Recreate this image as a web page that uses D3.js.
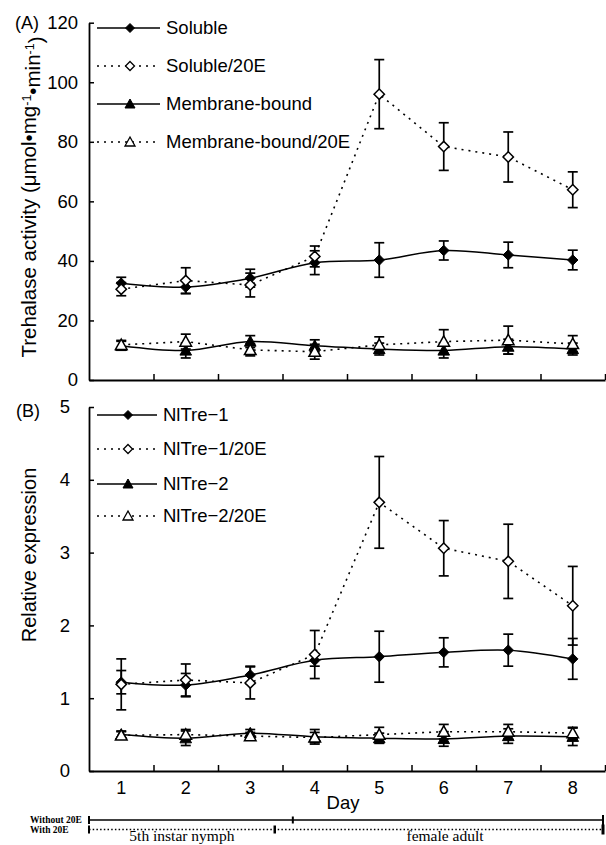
<!DOCTYPE html>
<html><head><meta charset="utf-8">
<script src="https://cdn.jsdelivr.net/npm/d3@7"></script>
<style>
html,body{margin:0;padding:0;background:#fff;}
svg{display:block;}
text{font-family:"Liberation Sans",Arial,sans-serif;fill:#000;}
.serif{font-family:"Liberation Serif","Times New Roman",serif;}
</style></head>
<body><svg id="chart" width="606" height="845"></svg>
<script>
// ---------- data ----------
const days = ["1","2","3","4","5","6","7","8"];
const yTicksA = [0,20,40,60,80,100,120];
const yTicksB = [0,1,2,3,4,5];

const seriesNamesA = ["Soluble","Soluble/20E","Membrane-bound","Membrane-bound/20E"];
const soluble        = [32.5, 31.2, 34.2, 39.4, 40.3, 43.5, 42.0, 40.3];
const solubleErr     = [2.0, 2.2, 3.0, 4.0, 5.8, 3.2, 4.3, 3.3];
const soluble20E     = [30.5, 33.4, 31.9, 41.5, 96.0, 78.4, 74.9, 63.9];
const soluble20EErr  = [2.2, 4.3, 4.0, 3.5, 11.6, 8.0, 8.4, 6.0];
const membrane       = [11.5, 9.9, 12.9, 11.5, 10.4, 9.9, 11.2, 10.4];
const membraneErr    = [1.5, 2.5, 2.0, 2.0, 2.0, 2.5, 2.5, 2.0];
const membrane20E    = [11.8, 12.9, 10.1, 9.5, 11.8, 12.9, 13.4, 12.1];
const membrane20EErr = [1.5, 2.5, 2.0, 2.5, 2.7, 4.0, 4.7, 2.8];

const seriesNamesB = ["NlTre\u22121","NlTre\u22121/20E","NlTre\u22122","NlTre\u22122/20E"];
const tre1       = [1.22, 1.18, 1.32, 1.52, 1.57, 1.63, 1.66, 1.54];
const tre1Err    = [0.16, 0.16, 0.12, 0.08, 0.35, 0.20, 0.22, 0.28];
const tre1_20E   = [1.19, 1.25, 1.21, 1.60, 3.69, 3.06, 2.88, 2.27];
const tre1_20EErr= [0.35, 0.22, 0.22, 0.33, 0.63, 0.38, 0.51, 0.54];
const tre2       = [0.50, 0.45, 0.52, 0.47, 0.45, 0.44, 0.48, 0.47];
const tre2Err    = [0.05, 0.10, 0.05, 0.10, 0.07, 0.10, 0.10, 0.12];
const tre2_20E   = [0.49, 0.50, 0.48, 0.46, 0.50, 0.54, 0.54, 0.52];
const tre2_20EErr= [0.05, 0.07, 0.05, 0.07, 0.10, 0.10, 0.10, 0.08];

const stageLabels = ["5th instar nymph","female adult"];
const stageRowLabels = ["Without 20E","With 20E"];
// stage boundary in day-axis units (0..8)
const stageBoundaryWithout = 3.16;
const stageBoundaryWith = 2.88;

// ---------- drawing ----------
const svg = d3.select("#chart");
const X0 = 89, X1 = 605;
const xBand = d3.scaleBand().domain(days).range([X0, X1]).paddingInner(0).paddingOuter(0);
const xEdge = d3.scaleLinear().domain([0, 8]).range([X0, X1]);
const xc = i => xBand(days[i]) + xBand.bandwidth()/2;

const diamond = "M0,-5.2L5.2,0L0,5.2L-5.2,0Z";
const triangle = "M0,-5.8L5.8,4.6L-5.8,4.6Z";
const diamondS = "M0,-4.5L4.5,0L0,4.5L-4.5,0Z";
const triangleS = "M0,-5L5,4L-5,4Z";

function panel(cfg){
  const y = d3.scaleLinear().domain(cfg.domain).range(cfg.range);
  const g = svg.append("g");
  // y axis
  const ya = g.append("g").attr("transform",`translate(${X0},0)`)
    .call(d3.axisLeft(y).tickValues(cfg.ticks).tickFormat(d3.format("d")).tickSizeInner(-5).tickSizeOuter(0).tickPadding(cfg.pad));
  ya.select(".domain").attr("stroke-width",1.8);
  ya.selectAll(".tick line").attr("stroke-width",1.5);
  ya.selectAll("text").attr("font-size",18.5).attr("font-family",null);
  // x axis ticks
  const xa = g.append("g").attr("transform",`translate(0,${cfg.range[0]})`)
    .call(d3.axisBottom(xEdge).tickValues([1,2,3,4,5,6,7,8]).tickSizeInner(-6).tickSizeOuter(0).tickFormat(""));
  xa.select(".domain").attr("stroke-width",1.8);
  xa.selectAll(".tick line").attr("stroke-width",1.5);
  if(cfg.xLabels){
    const xl = g.append("g").attr("transform",`translate(0,${cfg.range[0]})`)
      .call(d3.axisBottom(xBand).tickSize(0).tickPadding(10));
    xl.select(".domain").remove();
    xl.selectAll("text").attr("font-size",18).attr("font-family",null);
  }
  // series
  const lineSmooth = d3.line().x((d,i)=>xc(i)).y(d=>y(d)).curve(d3.curveCatmullRom.alpha(0.5));
  const lineStraight = d3.line().x((d,i)=>xc(i)).y(d=>y(d));
  cfg.series.forEach(s=>{
    const eg = g.append("g").attr("stroke","#000").attr("stroke-width",1.7);
    s.values.forEach((v,i)=>{
      const cx = xc(i), yt = y(v + s.err[i]), yb = y(v - s.err[i]);
      eg.append("line").attr("x1",cx).attr("x2",cx).attr("y1",yt).attr("y2",yb);
      eg.append("line").attr("x1",cx-5).attr("x2",cx+5).attr("y1",yt).attr("y2",yt);
      eg.append("line").attr("x1",cx-5).attr("x2",cx+5).attr("y1",yb).attr("y2",yb);
    });
  });
  cfg.series.forEach(s=>{
    g.append("path").datum(s.values)
      .attr("d", s.dotted ? lineStraight : lineSmooth)
      .attr("fill","none").attr("stroke","#000")
      .attr("stroke-width", s.dotted ? 1.6 : 1.5)
      .attr("stroke-dasharray", s.dotted ? "2,5" : null);
  });
  cfg.series.forEach(s=>{
    g.append("g").selectAll("path").data(s.values).join("path")
      .attr("d", s.shape)
      .attr("transform",(d,i)=>`translate(${xc(i)},${y(d)})`)
      .attr("fill", s.open ? "#fff" : "#000")
      .attr("stroke","#000").attr("stroke-width", s.open ? 1.5 : 1);
  });
  // legend
  cfg.series.forEach((s,k)=>{
    const ly = cfg.legendY[k];
    const lg = g.append("g");
    lg.append("line").attr("x1",97).attr("x2",cfg.legendLineEnd).attr("y1",ly).attr("y2",ly)
      .attr("stroke","#000").attr("stroke-width",1.5)
      .attr("stroke-dasharray", s.dotted ? "2,5" : null);
    lg.append("path").attr("d", s.legendShape)
      .attr("transform",`translate(${cfg.legendMarkX},${ly})`)
      .attr("fill", s.open ? "#fff" : "#000").attr("stroke","#000").attr("stroke-width", s.open?1.3:1);
    lg.append("text").attr("x",cfg.legendLineEnd+6).attr("y",ly).attr("dy","0.35em")
      .attr("font-size",18.5).text(s.name);
  });
  return y;
}

panel({
  domain:[0,120], range:[380,22.7], ticks:yTicksA, pad:11, xLabels:false,
  legendY:[28,66,104,142], legendLineEnd:160, legendMarkX:130,
  series:[
    {name:seriesNamesA[0], values:soluble, err:solubleErr, shape:diamond, legendShape:diamondS, open:false, dotted:false},
    {name:seriesNamesA[1], values:soluble20E, err:soluble20EErr, shape:diamond, legendShape:diamondS, open:true, dotted:true},
    {name:seriesNamesA[2], values:membrane, err:membraneErr, shape:triangle, legendShape:triangleS, open:false, dotted:false},
    {name:seriesNamesA[3], values:membrane20E, err:membrane20EErr, shape:triangle, legendShape:triangleS, open:true, dotted:true}
  ]
});

panel({
  domain:[0,5], range:[771,407], ticks:yTicksB, pad:19, xLabels:true,
  legendY:[415,449,484,516], legendLineEnd:157, legendMarkX:128,
  series:[
    {name:seriesNamesB[0], values:tre1, err:tre1Err, shape:diamond, legendShape:diamondS, open:false, dotted:false},
    {name:seriesNamesB[1], values:tre1_20E, err:tre1_20EErr, shape:diamond, legendShape:diamondS, open:true, dotted:true},
    {name:seriesNamesB[2], values:tre2, err:tre2Err, shape:triangle, legendShape:triangleS, open:false, dotted:false},
    {name:seriesNamesB[3], values:tre2_20E, err:tre2_20EErr, shape:triangle, legendShape:triangleS, open:true, dotted:true}
  ]
});

// panel letters
svg.append("text").attr("x",15).attr("y",23).attr("dy","0.35em").attr("font-size",18).text("(A)");
svg.append("text").attr("x",16).attr("y",411).attr("dy","0.35em").attr("font-size",18).text("(B)");

// y titles
const tA = svg.append("text").attr("transform","translate(29,197) rotate(-90)")
  .attr("text-anchor","middle").attr("dy","0.35em").attr("font-size",20.5);
tA.append("tspan").text("Trehalase activity  (\u03bcmol\u2022mg");
tA.append("tspan").attr("dy","-0.45em").attr("font-size",12.5).text("-1");
tA.append("tspan").attr("dy","0.45em").text("\u2022min");
tA.append("tspan").attr("dy","-0.45em").attr("font-size",12.5).text("-1");
tA.append("tspan").attr("dy","0.45em").text(")");

svg.append("text").attr("transform","translate(29,555) rotate(-90)")
  .attr("text-anchor","middle").attr("dy","0.35em").attr("font-size",20).text("Relative expression");

// x title
svg.append("text").attr("x",343).attr("y",803).attr("dy","0.35em").attr("text-anchor","middle")
  .attr("font-size",18.5).text("Day");

// stage annotation
const ann = svg.append("g");
ann.append("text").attr("class","serif").attr("x",30).attr("y",822.5).attr("font-size",9.5).attr("font-weight","bold").text(stageRowLabels[0]);
ann.append("text").attr("class","serif").attr("x",30).attr("y",832.5).attr("font-size",9.5).attr("font-weight","bold").text(stageRowLabels[1]);
const xs = xEdge(0), xe = xEdge(8)-2;
ann.append("line").attr("x1",xs).attr("x2",xe).attr("y1",820).attr("y2",820).attr("stroke","#000").attr("stroke-width",1.5);
ann.append("line").attr("x1",xs).attr("x2",xs).attr("y1",816).attr("y2",824).attr("stroke","#000").attr("stroke-width",2);
ann.append("line").attr("x1",xe).attr("x2",xe).attr("y1",815).attr("y2",825).attr("stroke","#000").attr("stroke-width",2);
const bw = xEdge(stageBoundaryWithout);
ann.append("line").attr("x1",bw).attr("x2",bw).attr("y1",816.5).attr("y2",823.5).attr("stroke","#000").attr("stroke-width",2);

ann.append("line").attr("x1",xs).attr("x2",xe).attr("y1",829.5).attr("y2",829.5).attr("stroke","#000").attr("stroke-width",1.5).attr("stroke-dasharray","1.5,2.2");
ann.append("line").attr("x1",xs).attr("x2",xs).attr("y1",825.5).attr("y2",833.5).attr("stroke","#000").attr("stroke-width",2);
ann.append("line").attr("x1",xe).attr("x2",xe).attr("y1",824.5).attr("y2",834.5).attr("stroke","#000").attr("stroke-width",3);
const bwi = xEdge(stageBoundaryWith);
ann.append("line").attr("x1",bwi).attr("x2",bwi).attr("y1",825.5).attr("y2",833.5).attr("stroke","#000").attr("stroke-width",2.5);

ann.append("text").attr("class","serif").attr("x",(xs+bwi)/2).attr("y",841).attr("text-anchor","middle").attr("font-size",15.5).text(stageLabels[0]);
ann.append("text").attr("class","serif").attr("x",445).attr("y",841).attr("text-anchor","middle").attr("font-size",15.5).text(stageLabels[1]);
</script></body></html>
